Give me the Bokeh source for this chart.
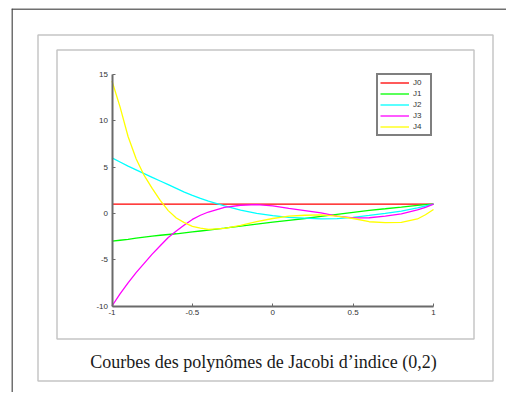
from bokeh.plotting import figure
from bokeh.models import (BoxAnnotation, Label, Range1d, FixedTicker, NumeralTickFormatter,
                          LinearAxis, Span)
from bokeh.embed import file_html
from bokeh.resources import INLINE

# ---- data ----
x = [-1.0, -0.95, -0.9, -0.85, -0.8, -0.75, -0.7, -0.65, -0.6, -0.55, -0.5, -0.45, -0.4,
     -0.3, -0.2, -0.1, 0.0, 0.1, 0.2, 0.3, 0.4, 0.5, 0.6, 0.7, 0.8, 0.9, 0.95, 1.0]
J0 = [1.0, 1.0, 1.0, 1.0, 1.0, 1.0, 1.0, 1.0, 1.0, 1.0, 1.0, 1.0, 1.0,
      1.0, 1.0, 1.0, 1.0, 1.0, 1.0, 1.0, 1.0, 1.0, 1.0, 1.0, 1.0, 1.0, 1.0, 1.0]
J1 = [-3.0, -2.9, -2.8, -2.68, -2.56, -2.45, -2.36, -2.28, -2.2, -2.1, -2.0, -1.9, -1.8,
      -1.6, -1.38, -1.16, -0.95, -0.75, -0.55, -0.33, -0.1, 0.12, 0.33, 0.5, 0.68, 0.87, 0.95, 1.0]
J2 = [6.0, 5.55, 5.1, 4.7, 4.3, 3.9, 3.5, 3.1, 2.7, 2.3, 1.95, 1.62, 1.32,
      0.8, 0.35, 0.0, -0.25, -0.42, -0.52, -0.6, -0.57, -0.43, -0.22, 0.0, 0.25, 0.6, 0.8, 1.0]
J3 = [-10.0, -8.7, -7.5, -6.4, -5.4, -4.4, -3.5, -2.6, -1.9, -1.25, -0.65, -0.2, 0.15,
      0.65, 0.88, 0.94, 0.82, 0.55, 0.3, 0.05, -0.3, -0.48, -0.47, -0.3, -0.05, 0.38, 0.65, 1.0]
J4 = [14.3, 11.5, 8.3, 5.9, 4.1, 2.7, 1.4, 0.3, -0.5, -1.0, -1.4, -1.6, -1.72,
      -1.62, -1.3, -0.9, -0.55, -0.3, -0.2, -0.15, -0.3, -0.55, -0.9, -1.0, -0.98, -0.6, -0.15, 0.43]

names = ["J0", "J1", "J2", "J3", "J4"]
series = [J0, J1, J2, J3, J4]
colors = ["#ff0000", "#00ff00", "#00ffff", "#ff00ff", "#ffff00"]

x_ticks = [-1, -0.5, 0, 0.5, 1]
y_ticks = [-10, -5, 0, 5, 10, 15]
caption = "Courbes des polynômes de Jacobi d\u2019indice (0,2)"

# ---- geometry (canvas pixels, top-down) ----
W, H = 506, 392
FL, FT = 11, 8           # frame covers the canvas from here to the right/bottom edges
FR, FB = W, H
X0_PX, X1_PX = 111.5, 433.0   # where x=-1 and x=1 sit
Y0_PX, Y1_PX = 305.5, 74.0    # where y=-10 and y=15 sit
kx = (X1_PX - X0_PX) / 2.0
ky = (Y0_PX - Y1_PX) / 25.0
xs = -1 - (X0_PX - FL) / kx
xe = xs + (FR - FL) / kx
yt = 15 + (Y1_PX - FT) / ky
yb = yt - (FB - FT) / ky

p = figure(width=W, height=H, output_backend="svg", toolbar_location=None,
           x_range=Range1d(xs, xe), y_range=Range1d(yb, yt),
           x_axis_location=None, y_axis_location=None,
           min_border_left=FL, min_border_right=0,
           min_border_top=FT, min_border_bottom=0)
p.outline_line_color = None
p.grid.visible = False
p.background_fill_color = "white"
p.border_fill_color = "white"

xaxis = LinearAxis(fixed_location=-10, bounds=(-1, 1), ticker=FixedTicker(ticks=x_ticks))
yaxis = LinearAxis(fixed_location=-1, bounds=(-10, 15), ticker=FixedTicker(ticks=y_ticks))
for ax in (xaxis, yaxis):
    ax.axis_line_color = "#6a6a6a"
    ax.axis_line_width = 2
    ax.major_tick_line_color = "#6a6a6a"
    ax.major_tick_line_width = 1
    ax.major_tick_in = 3
    ax.major_tick_out = 0
    ax.minor_tick_line_color = None
    ax.major_label_text_font = "Liberation Sans"
    ax.major_label_text_font_size = "8px"
    ax.major_label_text_color = "#333333"
    ax.major_label_standoff = 4
    ax.formatter = NumeralTickFormatter(format="0[.]0")
p.add_layout(xaxis, "below")
p.add_layout(yaxis, "left")

for name, ys, c in zip(names, series, colors):
    p.line(x, ys, line_color=c, line_width=1.3, legend_label=name)


def sx(cx):
    return cx - FL


def sy(cy):
    return FB - cy


lg = p.legend[0]
lg.border_line_color = "black"
lg.border_line_width = 2
lg.background_fill_color = "white"
lg.background_fill_alpha = 1
lg.label_text_font = "Liberation Sans"
lg.label_text_font_size = "8px"
lg.label_text_color = "#333333"
lg.padding = 2
lg.spacing = 0
lg.margin = 0
lg.label_height = 11
lg.glyph_height = 11
lg.glyph_width = 29
lg.label_standoff = 4
lg.label_width = 15
lg.location = (sx(376), sy(136))

BOX_COLOR = "#404040"

# outer frame: only its left and top edges fall inside the picture
p.add_layout(Span(location=sy(8.5), location_units="screen", dimension="width",
                  line_color=BOX_COLOR, line_width=1.5))
p.add_layout(Span(location=sx(11.5), location_units="screen", dimension="height",
                  line_color=BOX_COLOR, line_width=1.5))


def frame_box(l, t, r, b, lw=1.5, color=BOX_COLOR):
    p.add_layout(BoxAnnotation(left=sx(l), right=sx(r), top=sy(t), bottom=sy(b),
                               left_units="screen", right_units="screen",
                               top_units="screen", bottom_units="screen",
                               fill_alpha=0, line_color=color, line_width=lw,
                               level="annotation"))


frame_box(37.5, 34.5, 492.5, 380.5)
frame_box(56.5, 49.5, 473.5, 338.5)

p.add_layout(Label(x=sx(263), y=sy(361), x_units="screen", y_units="screen",
                   text=caption, text_align="center", text_baseline="middle",
                   text_font="Liberation Serif", text_font_size="18px",
                   text_color="#1a1a1a"))

open("out.html", "w").write(file_html(p, INLINE))
